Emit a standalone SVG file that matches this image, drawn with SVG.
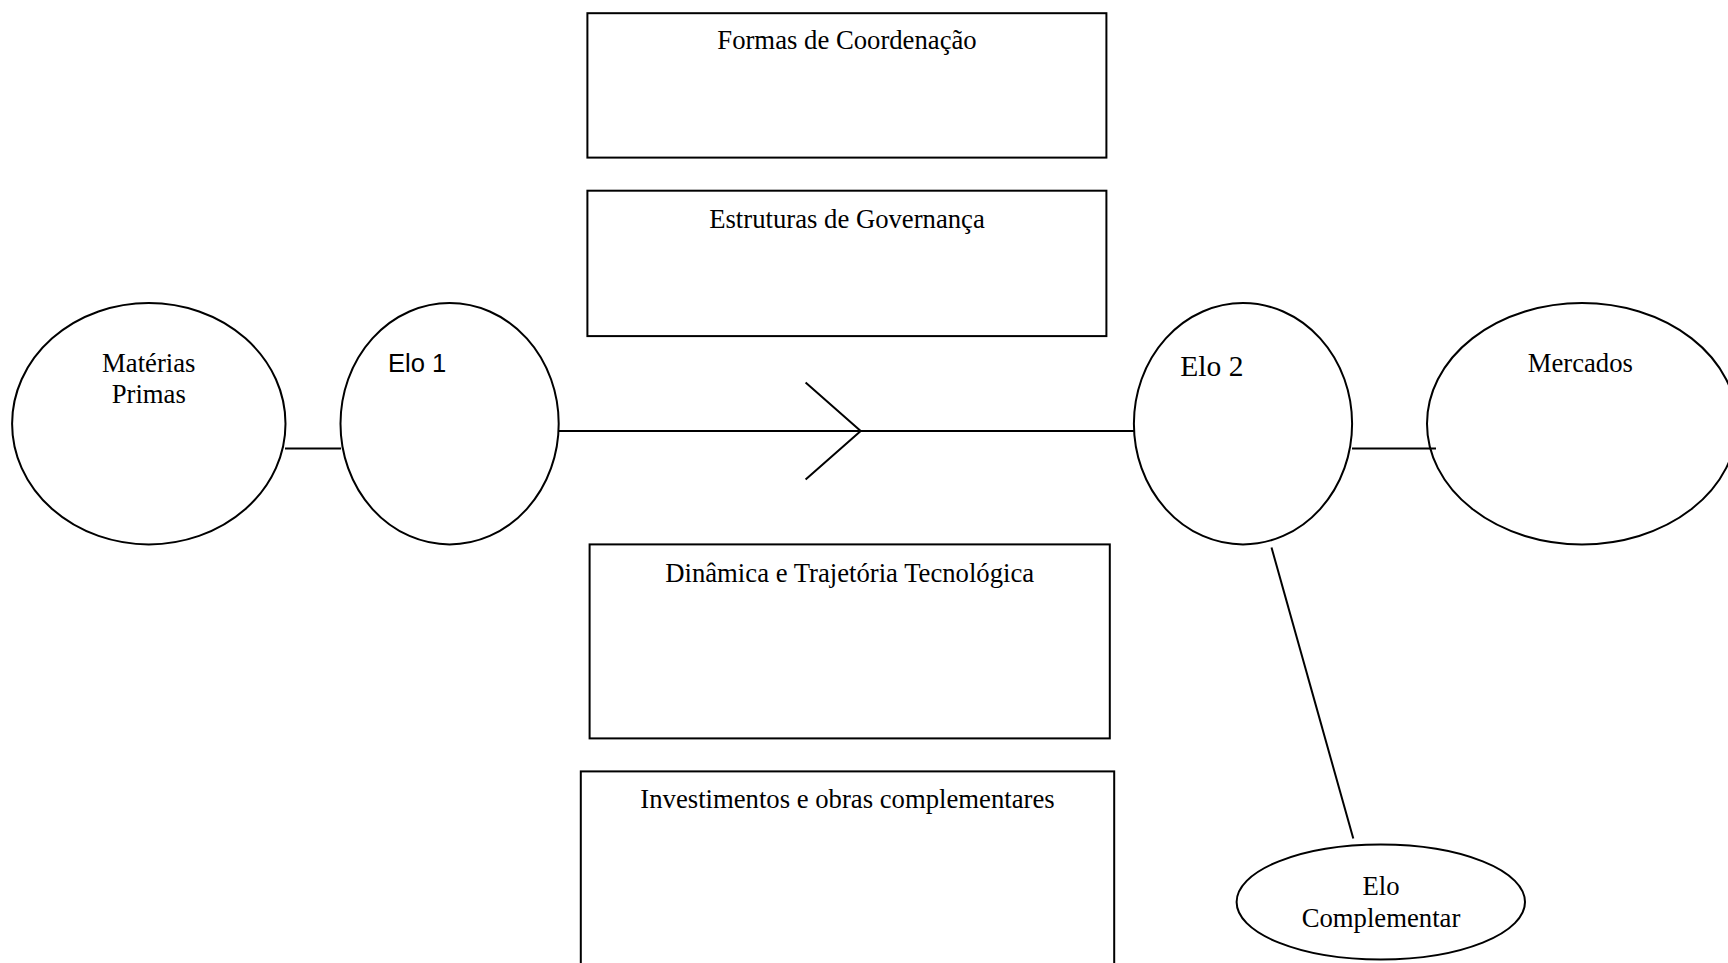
<svg xmlns="http://www.w3.org/2000/svg" width="1728" height="963" viewBox="0 0 1728 963">
<style>
.shape{fill:#ffffff;stroke:#000000;stroke-width:2}
.conn{fill:none;stroke:#000000;stroke-width:2}
.t{font-family:"Liberation Serif","Times New Roman",serif;font-size:26.7px;fill:#000000;text-anchor:middle}
.s{font-family:"Liberation Sans",Arial,sans-serif;font-size:25.6px;fill:#000000}
</style>
<rect width="1728" height="963" fill="#ffffff"/>
<g id="connectors">
<line class="conn" x1="285" y1="448.5" x2="341" y2="448.5"/>
<line class="conn" x1="559" y1="431" x2="1134" y2="431"/>
<polyline class="conn" points="805.6,382.4 860.7,431 805.6,479.4"/>
<line class="conn" x1="1352" y1="448.5" x2="1436" y2="448.5"/>
<line class="conn" x1="1271.5" y1="547.5" x2="1353.3" y2="838.6"/>
</g>
<g id="box-formas">
<rect class="shape" x="587.4" y="13.2" width="519" height="144.4"/>
<text class="t" x="847" y="49">Formas de Coordenação</text>
</g>
<g id="box-estruturas">
<rect class="shape" x="587.4" y="190.7" width="519" height="145.4"/>
<text class="t" x="847" y="227.7">Estruturas de Governança</text>
</g>
<g id="box-dinamica">
<rect class="shape" x="589.6" y="544.4" width="520.2" height="194"/>
<text class="t" x="849.7" y="581.7">Dinâmica e Trajetória Tecnológica</text>
</g>
<g id="box-investimentos">
<rect class="shape" x="580.8" y="771.4" width="533.4" height="220"/>
<text class="t" x="847.5" y="807.7">Investimentos e obras complementares</text>
</g>
<g id="node-materias">
<ellipse class="shape" cx="148.8" cy="423.7" rx="136.7" ry="120.7"/>
<text class="t" x="148.8" y="371.7">Matérias</text>
<text class="t" x="148.8" y="403.3">Primas</text>
</g>
<g id="node-elo1">
<ellipse class="shape" cx="449.6" cy="423.7" rx="109.1" ry="120.7"/>
<text class="s" x="388" y="372">Elo 1</text>
</g>
<g id="node-elo2">
<ellipse class="shape" cx="1243" cy="423.7" rx="109.1" ry="120.7"/>
<text class="t" x="1180.3" y="375.5" style="text-anchor:start;font-size:29.5px">Elo 2</text>
</g>
<g id="node-mercados">
<ellipse class="shape" cx="1582" cy="423.7" rx="155" ry="120.7" style="fill:none"/>
<text class="t" x="1580.3" y="371.7">Mercados</text>
</g>
<g id="node-elo-complementar">
<ellipse class="shape" cx="1380.8" cy="902" rx="144.2" ry="57.5"/>
<text class="t" x="1381" y="895">Elo</text>
<text class="t" x="1381" y="926.7">Complementar</text>
</g>
</svg>
